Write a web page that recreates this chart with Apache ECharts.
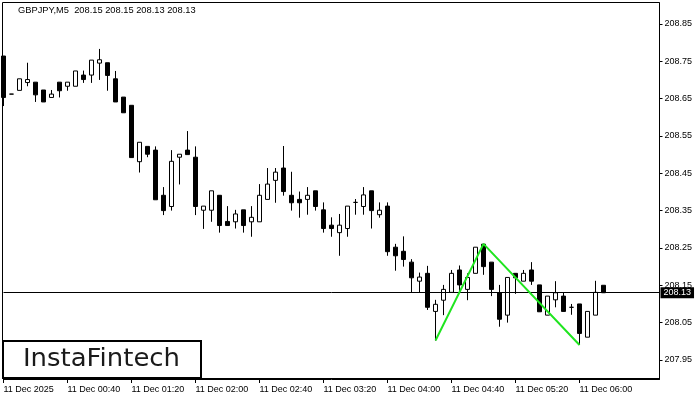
<!DOCTYPE html>
<html>
<head>
<meta charset="utf-8">
<script src="https://cdn.jsdelivr.net/npm/echarts@6/dist/echarts.min.js"></script>
<style>html,body{margin:0;padding:0;background:#fff;}#c{width:700px;height:400px;}</style>
</head>
<body>
<div id="c"></div>
<script>
// Time slots (5-minute bars, 11 Dec 2025), including the empty chart-shift area on the right
const categories = [
'00:00','00:05','00:10','00:15','00:20','00:25','00:30','00:35','00:40','00:45','00:50','00:55',
'01:00','01:05','01:10','01:15','01:20','01:25','01:30','01:35','01:40','01:45','01:50','01:55',
'02:00','02:05','02:10','02:15','02:20','02:25','02:30','02:35','02:40','02:45','02:50','02:55',
'03:00','03:05','03:10','03:15','03:20','03:25','03:30','03:35','03:40','03:45','03:50','03:55',
'04:00','04:05','04:10','04:15','04:20','04:25','04:30','04:35','04:40','04:45','04:50','04:55',
'05:00','05:05','05:10','05:15','05:20','05:25','05:30','05:35','05:40','05:45','05:50','05:55',
'06:00','06:05','06:10','06:15','06:20','06:25','06:30','06:35','06:40','06:45','06:50'
];

const openVals = [
208.764,208.662,208.672,208.693,208.694,208.673,208.653,208.694,208.683,208.683,
208.713,208.713,208.745,208.746,208.703,208.654,208.632,208.481,208.522,208.512,
208.391,208.361,208.493,208.512,208.493,208.351,208.351,208.391,208.321,208.320,
208.352,208.320,208.320,208.380,208.431,208.464,208.391,208.380,208.380,208.403,
208.352,208.311,208.291,208.302,208.372,208.361,208.403,208.339,208.362,208.252,
208.241,208.212,208.161,208.182,208.080,208.110,208.131,208.191,208.139,208.182,
208.260,208.212,208.130,208.070,208.182,208.161,208.191,208.151,208.070,208.111,
208.121,208.091,208.100,208.011,208.070,208.150];

const closeVals = [
208.653,208.662,208.703,208.701,208.660,208.641,208.662,208.671,208.694,208.724,
208.701,208.753,208.754,208.712,208.641,208.612,208.492,208.533,208.501,208.379,
208.350,208.482,208.501,208.500,208.361,208.362,208.403,208.310,208.310,208.341,
208.310,208.332,208.391,208.421,208.453,208.401,208.371,208.371,208.391,208.361,
208.302,208.302,208.311,208.362,208.372,208.392,208.350,208.351,208.240,208.229,
208.219,208.170,208.172,208.091,208.099,208.139,208.182,208.151,208.171,208.252,
208.200,208.139,208.059,208.171,208.170,208.182,208.161,208.079,208.121,208.130,
208.080,208.091,208.021,208.080,208.131,208.130];

const highVals = [
208.764,208.662,208.703,208.746,208.694,208.673,208.673,208.694,208.694,208.724,
208.725,208.753,208.783,208.746,208.724,208.654,208.632,208.533,208.522,208.522,
208.413,208.512,208.501,208.563,208.522,208.362,208.403,208.391,208.362,208.352,
208.352,208.362,208.421,208.464,208.464,208.523,208.454,208.401,208.413,208.403,
208.372,208.332,208.341,208.362,208.381,208.413,208.403,208.372,208.372,208.261,
208.281,208.220,208.184,208.202,208.111,208.151,208.191,208.203,208.182,208.252,
208.261,208.212,208.151,208.171,208.182,208.191,208.212,208.151,208.121,208.161,
208.131,208.100,208.100,208.080,208.162,208.150];

const lowVals = [
208.630,208.662,208.672,208.683,208.641,208.641,208.653,208.653,208.671,208.683,
208.692,208.692,208.700,208.671,208.641,208.612,208.492,208.452,208.493,208.379,
208.338,208.350,208.420,208.500,208.338,208.301,208.320,208.291,208.310,208.302,
208.291,208.280,208.320,208.380,208.371,208.390,208.350,208.331,208.339,208.350,
208.291,208.280,208.229,208.280,208.339,208.339,208.302,208.331,208.229,208.189,
208.200,208.131,208.131,208.084,208.002,208.070,208.131,208.131,208.110,208.182,
208.178,208.121,208.039,208.050,208.127,208.161,208.151,208.079,208.070,208.091,
208.080,208.071,207.990,208.011,208.070,208.130];

// Double-bottom pattern line (bar index, price)
const patternIndex = [54, 60, 72];
const patternValue = [208.002, 208.261, 207.990];

const currentPrice = 208.13;
const yTicks = [207.95,208.05,208.15,208.25,208.35,208.45,208.55,208.65,208.75,208.85];
const xTickLabels = ['11 Dec 2025','11 Dec 00:40','11 Dec 01:20','11 Dec 02:00','11 Dec 02:40',
  '11 Dec 03:20','11 Dec 04:00','11 Dec 04:40','11 Dec 05:20','11 Dec 06:00'];
const titleText = 'GBPJPY,M5  208.15 208.15 208.13 208.13';
const logoText = 'InstaFintech';

const FONT = 'Liberation Sans';
const candleData = openVals.map((o, i) => [o, closeVals[i], lowVals[i], highVals[i]]);
const patternData = patternIndex.map((x, i) => [x, patternValue[i]]);

const chart = echarts.init(document.getElementById('c'), null, {renderer: 'canvas'});
chart.setOption({
  animation: false,
  backgroundColor: '#fff',
  title: {
    text: titleText, left: 18, top: 6, padding: 0,
    textStyle: {fontSize: 9.3, fontWeight: 'normal', color: '#000', fontFamily: FONT}
  },
  grid: {left: 3.5, right: 40.5, top: 3, bottom: 21, containLabel: false},
  xAxis: {
    type: 'category', data: categories, boundaryGap: false,
    axisLine: {show: true, lineStyle: {color: '#000', width: 1}},
    axisTick: {show: true, length: 4, lineStyle: {color: '#000'},
      interval: (idx) => idx % 8 === 0 && idx / 8 < xTickLabels.length},
    axisLabel: {
      show: true, interval: (idx) => idx % 8 === 0 && idx / 8 < xTickLabels.length,
      formatter: (v, idx) => xTickLabels[idx / 8] || '',
      align: 'left', margin: 6, fontSize: 9, color: '#000', fontFamily: FONT
    },
    splitLine: {show: false}
  },
  yAxis: {
    type: 'value', position: 'right', min: 207.899, max: 208.906, scale: true,
    axisLine: {show: true, lineStyle: {color: '#000', width: 1}},
    axisTick: {show: true, length: 3, customValues: yTicks, lineStyle: {color: '#000'}},
    axisLabel: {show: true, customValues: yTicks, formatter: (v) => v.toFixed(2),
      margin: 5, fontSize: 9, color: '#000', fontFamily: FONT},
    splitLine: {show: false}
  },
  series: [
    {
      type: 'candlestick', data: candleData, barWidth: 4, clip: false,
      itemStyle: {color: '#fff', color0: '#000', borderColor: '#000', borderColor0: '#000',
        borderColorDoji: '#000', borderWidth: 1},
      markLine: {
        silent: true, symbol: ['none', 'none'], animation: false,
        lineStyle: {color: '#000', width: 1, type: 'solid'},
        label: {show: true, position: 'end', formatter: currentPrice.toFixed(2),
          backgroundColor: '#000', color: '#fff', fontSize: 9, fontFamily: FONT,
          padding: [1, 3, 1, 3], distance: 1},
        emphasis: {disabled: true},
        data: [{yAxis: currentPrice}]
      }
    },
    {
      type: 'line', data: patternData, symbol: 'none', z: 5,
      lineStyle: {color: '#1fe51f', width: 2}
    }
  ],
  graphic: [
    {type: 'rect', z: 100, silent: true,
      shape: {x: 2.5, y: 2.5, width: 657, height: 376},
      style: {fill: 'none', stroke: '#000', lineWidth: 1}},
    {type: 'rect', z: 101, silent: true,
      shape: {x: 3, y: 341, width: 198, height: 37},
      style: {fill: '#fff', stroke: '#000', lineWidth: 2}},
    {type: 'text', z: 102, silent: true, x: 101.5, y: 359.5, scaleX: 1.08,
      style: {text: logoText, fill: '#1a1a1a', font: '24px "DejaVu Sans"',
        textAlign: 'center', textVerticalAlign: 'middle'}}
  ]
});
</script>
</body>
</html>
